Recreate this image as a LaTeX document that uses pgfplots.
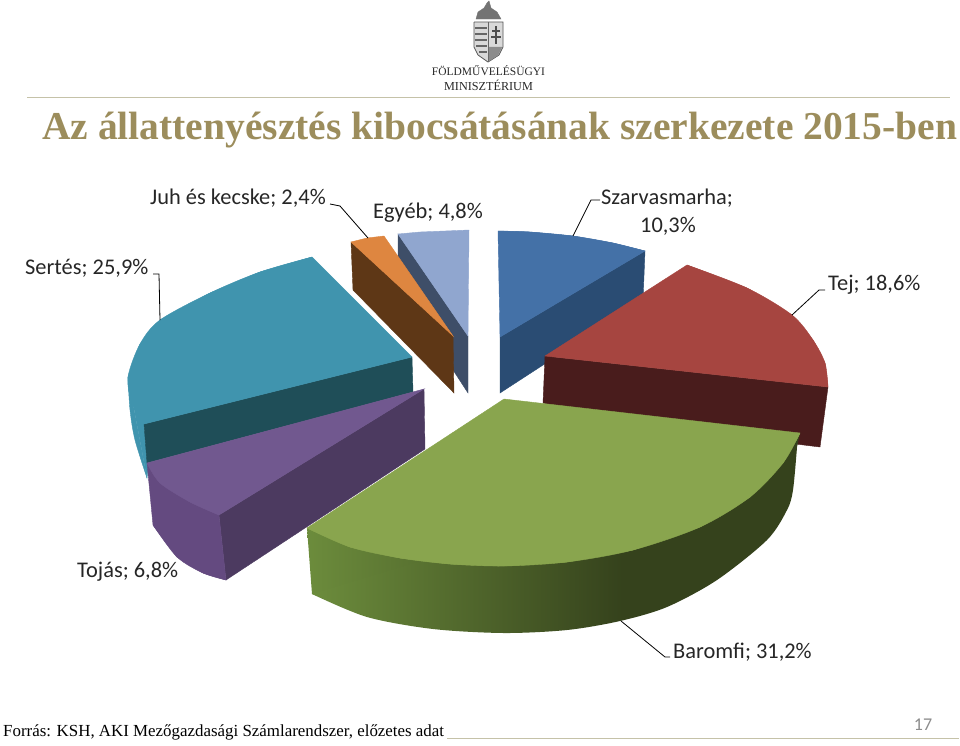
\documentclass[border=0pt]{standalone}
\usepackage{fontspec}
\setmainfont{Liberation Serif}
\newfontfamily\lab{Carlito}
\usepackage{pgfplots}
\pgfplotsset{compat=1.18}

\definecolor{orangeT}{HTML}{DE8640}
\definecolor{orangeS}{HTML}{5E3716}
\definecolor{lblueT}{HTML}{90A6CF}
\definecolor{lblueS}{HTML}{3E4E68}
\definecolor{blueT}{HTML}{4471A7}
\definecolor{blueS}{HTML}{2A4C73}
\definecolor{redT}{HTML}{A64540}
\definecolor{redS}{HTML}{491C1C}
\definecolor{greenT}{HTML}{89A54E}
\definecolor{greenL}{HTML}{6C8C3C}
\definecolor{greenS}{HTML}{35421C}
\definecolor{tealT}{HTML}{4094AE}
\definecolor{tealS}{HTML}{1F4E58}
\definecolor{purpT}{HTML}{71588F}
\definecolor{purpF}{HTML}{644A80}
\definecolor{purpS}{HTML}{4C3A60}
\definecolor{titlec}{HTML}{9C8D5C}
\definecolor{rulec}{HTML}{C5C2A8}

\pgfdeclarehorizontalshading{greenside}{100bp}{color(0bp)=(greenL); color(25bp)=(greenL); color(57bp)=(greenS); color(100bp)=(greenS)}

\tikzset{
  face/.style={draw=#1,line width=0.4pt,fill=#1},
  leader/.style={draw=black,line width=0.8pt},
  lbl/.style={font=\lab\fontsize{22.4}{26}\selectfont,text=black!85,inner sep=0pt},
}

\begin{document}
\begin{tikzpicture}
\begin{axis}[
    scale only axis, width=960pt, height=745pt,
    xmin=0, xmax=960, ymin=0, ymax=745, y dir=reverse,
    hide axis, clip=false,
]
% rules
\addplot[draw=rulec,line width=1pt] coordinates {(27,97) (950,97)};
\addplot[draw=rulec,line width=1pt] coordinates {(447,738) (959,738)};

% logo
\addplot[face=black!55] coordinates {(476,19) (478,12) (484,8) (487,3) (489,1) (491,8) (497,12) (501,19)} --cycle;
\addplot[face=black!15] coordinates {(474,22) (503,22) (503,47) (499,55) (488,62) (478,55) (474,47)} --cycle;
\addplot[draw=black!65,line width=0.8pt] coordinates {(474,22) (503,22) (503,47) (499,55) (488,62) (478,55) (474,47) (474,22)};
\addplot[draw=black!60,line width=1.6pt] coordinates {(475,28) (487,28)};
\addplot[draw=black!60,line width=1.6pt] coordinates {(475,34) (487,34)};
\addplot[draw=black!60,line width=1.6pt] coordinates {(475,40) (487,40)};
\addplot[draw=black!60,line width=1.6pt] coordinates {(476,46) (487,46)};
\addplot[draw=black!60,line width=1.6pt] coordinates {(479,52) (487,52)};
\addplot[draw=black!60,line width=0.8pt] coordinates {(488,22) (488,62)};
\addplot[draw=black!70,line width=1.6pt] coordinates {(496,26) (496,44)};
\addplot[draw=black!70,line width=1.2pt] coordinates {(492,31) (500,31)};
\addplot[draw=black!70,line width=1.2pt] coordinates {(491,37) (501,37)};
\addplot[face=black!45] coordinates {(489,47) (502,47) (498,55) (489,61)} --cycle;

% egyeb
\addplot[face=lblueS] coordinates {(398,234) (468,336) (468,393) (440,350) (398,260)} --cycle;
\addplot[face=lblueT] coordinates {(398,234) (420,232) (445,231) (469,230) (468,336)} --cycle;
% juh es kecske
\addplot[face=orangeS] coordinates {(351,242) (453,336) (454,393) (353,290)} --cycle;
\addplot[face=orangeT] coordinates {(351,242) (367,238) (384,236) (453,336)} --cycle;
% szarvasmarha
\addplot[face=blueS] coordinates {(645,251) (643,300) (500,393) (500,337)} --cycle;
\addplot[face=blueT] coordinates {(498,231) (530,232) (573,236) (613,243) (645,251) (500,337)} --cycle;
\addplot[face=blueT,smooth] coordinates {(498,231) (530,232) (573,236) (613,243) (645,251)};
% tej
\addplot[face=redS] coordinates {(545,356) (828,387) (820,447) (600,420) (543,403)} --cycle;
\addplot[face=redT] coordinates {(687,265) (747,288) (792,315) (813,340) (825,363) (828,387) (545,356)} --cycle;
\addplot[face=redT,smooth] coordinates {(687,265) (747,288) (792,315) (813,340) (825,363) (828,387)};
% sertes
\addplot[face=tealT,smooth] coordinates {(128,377) (130,410) (135,440) (147,478)};
\addplot[face=tealT] coordinates {(128,377) (144,424) (148,470) (147,478)} --cycle;
\addplot[face=tealS] coordinates {(144,424) (412,357) (413,392) (147,463)} --cycle;
\addplot[face=tealT] coordinates {(312,257) (260,272) (210,293) (160,320) (140,344) (128,377) (132,403) (144,424) (412,357)} --cycle;
\addplot[face=tealT,smooth] coordinates {(312,257) (260,272) (210,293) (160,320) (140,344) (128,377) (132,403) (144,424)};
% tojas
\addplot[face=purpS] coordinates {(424,389) (425,449) (226,580) (219,515)} --cycle;
\addplot[face=purpF] coordinates {(147,463) (153,525) (177,557) (203,573) (226,580) (219,515)} --cycle;
\addplot[face=purpF,smooth] coordinates {(153,525) (177,557) (203,573) (226,580)};
\addplot[face=purpT] coordinates {(424,389) (219,515) (190,502) (160,483) (147,463)} --cycle;
\addplot[face=purpT,smooth] coordinates {(147,463) (160,483) (190,502) (219,515)};
% baromfi
\addplot[draw=none,shade,shading=greenside] coordinates {(307,528) (312,594) (367,612) (433,624) (504,628) (567,625) (620,616) (667,602) (717,575) (767,535) (785,505) (797,447) (800,433)} --cycle;
\addplot[draw=none,shade,shading=greenside,smooth] coordinates {(312,594) (367,617) (433,629) (504,633) (567,630) (620,621) (667,607) (717,580) (767,540) (787,510) (793,490) (797,447)};
\addplot[face=greenT] coordinates {(504,399) (800,433) (783,463) (750,497) (700,527) (633,550) (567,562) (504,566) (450,564) (400,558) (350,547) (307,528)} --cycle;
\addplot[face=greenT,smooth] coordinates {(800,433) (783,463) (750,497) (700,527) (633,550) (567,562) (504,566) (450,564) (400,558) (350,547) (307,528)};

% leaders
\addplot[leader] coordinates {(153,274) (159,274) (160,320)};
\addplot[leader] coordinates {(330,204) (340,206) (368,238)};
\addplot[leader] coordinates {(600,200) (591,200) (573,236)};
\addplot[leader] coordinates {(825,290) (819,290) (792,315)};
\addplot[leader] coordinates {(621,621) (665,657) (670,657)};

% texts
\node[anchor=west,font=\bfseries\fontsize{39.5}{44}\selectfont,text=titlec,inner sep=0pt] at (axis cs:42,130) {Az állattenyésztés kibocsátásának szerkezete 2015-ben};
\node[lbl,anchor=west] at (axis cs:150,198) {Juh és kecske; 2,4\%};
\node[lbl,anchor=west] at (axis cs:373,213) {Egyéb; 4,8\%};
\node[lbl,anchor=west] at (axis cs:601,198) {Szarvasmarha;};
\node[lbl] at (axis cs:668,226) {10,3\%};
\node[lbl,anchor=west] at (axis cs:25,268) {Sertés; 25,9\%};
\node[lbl,anchor=west] at (axis cs:828,285) {Tej; 18,6\%};
\node[lbl,anchor=west] at (axis cs:77,572) {Tojás; 6,8\%};
\node[lbl,anchor=west] at (axis cs:673,652) {Baromfi; 31,2\%};
\node[anchor=west,font=\fontsize{16.9}{20}\selectfont,inner sep=0pt] at (axis cs:3,732) {Forrás: KSH, AKI Mezőgazdasági Számlarendszer, előzetes adat};
\node[font=\lab\fontsize{18}{20}\selectfont,text=black!45,inner sep=0pt] at (axis cs:923,725) {17};
\node[font=\fontsize{11.5}{14}\selectfont,text=black!85,inner sep=0pt] at (axis cs:488.5,71) {FÖLDMŰVELÉSÜGYI};
\node[font=\fontsize{12.2}{14}\selectfont,text=black!85,inner sep=0pt] at (axis cs:488.5,85) {MINISZTÉRIUM};
\end{axis}
\pgfresetboundingbox
\path[use as bounding box] (current axis.south west) rectangle (current axis.north east);
\end{tikzpicture}
\end{document}
